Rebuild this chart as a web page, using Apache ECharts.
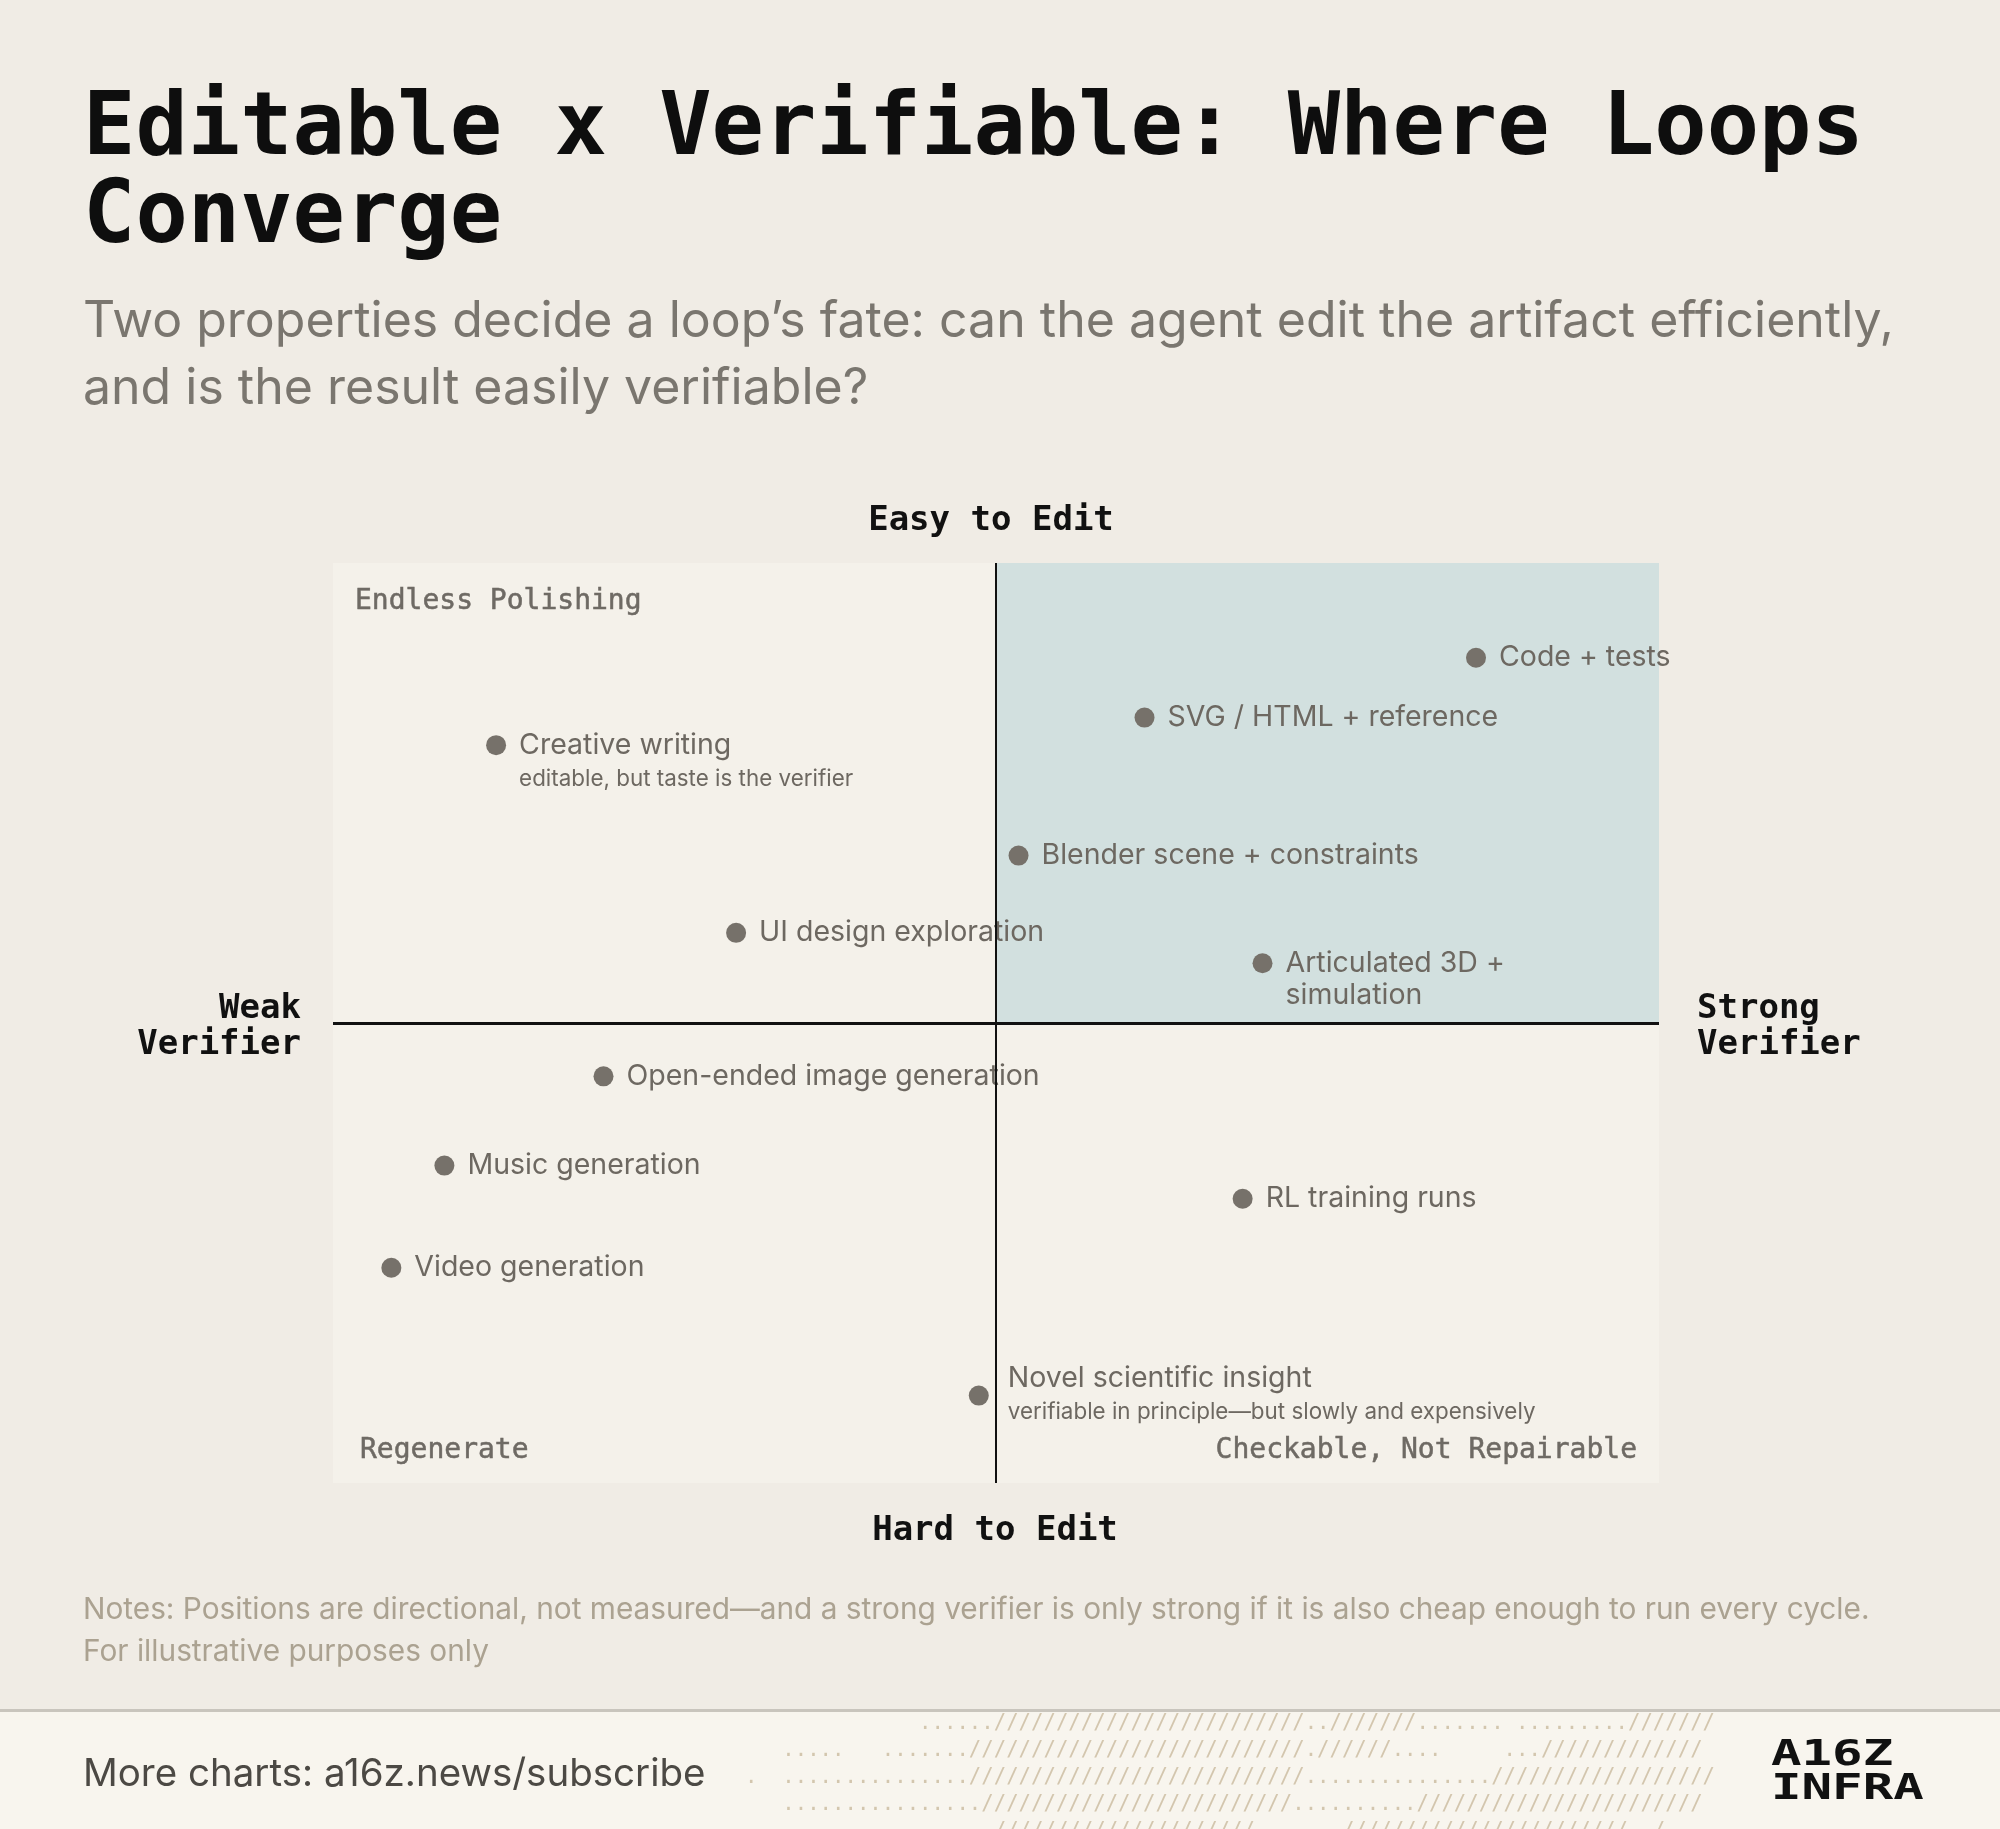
<!DOCTYPE html>
<html><head><meta charset="utf-8">
<script src="https://cdn.jsdelivr.net/npm/echarts@6/dist/echarts.min.js"></script>
<style>html,body{margin:0;padding:0;background:#f0ece5;}#c{width:2000px;height:1829px;}</style>
</head><body><div id="c"></div>
<script>
// ---- data ----
const names = ['Code + tests','SVG / HTML + reference','Creative writing','Blender scene + constraints','UI design exploration','Articulated 3D +\nsimulation','Open-ended image generation','Music generation','RL training runs','Video generation','Novel scientific insight'];
const subNotes = ['','','editable, but taste is the verifier','','','','','','','','verifiable in principle\u2014but slowly and expensively'];
const verifierScore = [86.2,61.2,12.3,51.7,30.4,70.1,20.4,8.4,68.6,4.4,48.7];
const editScore = [89.7,83.2,80.2,68.2,59.8,56.5,44.2,34.5,30.9,23.4,9.5];
const quadrantLabels = ['Loops Converge Here','Endless Polishing','Regenerate','Checkable, Not Repairable'];
const axisTitles = ['Easy to Edit','Hard to Edit','Weak\nVerifier','Strong\nVerifier'];
const titleLines = ['Editable x Verifiable: Where Loops','Converge'];
const subtitleLines = ['Two properties decide a loop\u2019s fate: can the agent edit the artifact efficiently,','and is the result easily verifiable?'];
const noteLines = ['Notes: Positions are directional, not measured\u2014and a strong verifier is only strong if it is also cheap enough to run every cycle.','For illustrative purposes only'];
const footerText = 'More charts: a16z.news/subscribe';

// ---- build ----
const S = 'Inter, "Noto Sans", sans-serif';
const M = '"DejaVu Sans Mono", "Liberation Mono", monospace';
const labelColor = '#6d6861';
const data = names.map((n, i) => {
  const lines = n.split('\n').map(l => '{m|' + l + '}');
  if (subNotes[i]) lines.push('{s|' + subNotes[i] + '}');
  const extra = lines.length - 1;
  let dx = 0, dy = 0;
  if (subNotes[i] && editScore[i] > 50) dy = 18;
  else if (subNotes[i]) { dy = 1; dx = 6; }
  else if (extra > 0) dy = 16;
  return { value: [verifierScore[i], editScore[i]], name: n,
    label: { formatter: lines.join('\n'), offset: [dx, dy] } };
});
const rep = (c, k) => c.repeat(k);
const pattern = [
  rep(' ',14)+rep('.',6)+rep('/',25)+'..'+rep('/',7)+rep('.',7)+' '+rep('.',9)+rep('/',7),
  rep(' ',3)+rep('.',5)+rep(' ',3)+rep('.',7)+rep('/',27)+'.'+rep('/',6)+rep('.',4)+rep(' ',5)+'...'+rep('/',13),
  '.'+'  '+rep('.',15)+rep('/',27)+rep('.',15)+rep('/',18),
  rep(' ',3)+rep('.',16)+rep('/',25)+rep('.',10)+rep('/',23),
  rep(' ',20)+rep('/',21)+rep(' ',7)+rep('/',23)+'  /'
];

const DY = 4;
const T = (text, x, y, font, fill, align, extra, st) => Object.assign({ type: 'text', x: x, y: y + DY, silent: true,
  style: Object.assign({ text: text, x: 0, y: 0, font: font, fill: fill, textAlign: align || 'left', textVerticalAlign: 'middle' }, st || {}) }, extra || {});
const qs = (c) => ({ stroke: c, lineWidth: 0.5 });

const elements = [
  { type: 'rect', shape: { x: 0, y: 1709, width: 2000, height: 3 }, style: { fill: '#c9c5bd' }, silent: true },
  { type: 'rect', shape: { x: 0, y: 1712, width: 2000, height: 117 }, style: { fill: '#f8f5ee' }, silent: true },
  T(titleLines[0], 83, 127, 'bold 87px ' + M, '#0e0e0e'),
  T(titleLines[1], 83, 215, 'bold 87px ' + M, '#0e0e0e'),
  T(subtitleLines[0], 83, 318, '50px ' + S, '#7a766f'),
  T(subtitleLines[1], 83, 385, '50px ' + S, '#7a766f'),
  T(axisTitles[0], 991, 517, 'bold 34px ' + M, '#111', 'center'),
  T(axisTitles[1], 995, 1527, 'bold 34px ' + M, '#111', 'center'),
  T(quadrantLabels[1], 355, 598, '28px ' + M, '#6e6a64', 'left', null, qs('#6e6a64')),
  T(quadrantLabels[0], 1637, 598, '28px ' + M, '#1e7a9b', 'right', null, qs('#1e7a9b')),
  T(quadrantLabels[2], 360, 1447, '28px ' + M, '#6e6a64', 'left', null, qs('#6e6a64')),
  T(quadrantLabels[3], 1637, 1447, '28px ' + M, '#6e6a64', 'right', null, qs('#6e6a64')),
  T(noteLines[0], 83, 1606, '29.8px ' + S, '#aba291'),
  T(noteLines[1], 83, 1648, '29.8px ' + S, '#aba291'),
  T(footerText, 83, 1770, '38.5px ' + S, '#4c4944'),
  T('A16Z', 1771, 1752, 'bold 36px ' + M, '#111', 'left', { scaleX: 1.41 }),
  T('INFRA', 1771, 1786, 'bold 36px ' + M, '#111', 'left', { scaleX: 1.41 })
];
const wv = axisTitles[2].split('\n'), sv = axisTitles[3].split('\n');
elements.push(T(wv[0], 301, 1005, 'bold 34px ' + M, '#111', 'right'));
elements.push(T(wv[1], 301, 1041, 'bold 34px ' + M, '#111', 'right'));
elements.push(T(sv[0], 1697, 1005, 'bold 34px ' + M, '#111'));
elements.push(T(sv[1], 1697, 1041, 'bold 34px ' + M, '#111'));
pattern.forEach((p, i) => elements.push(T(p, 745, 1720 + i * 27, '20.66px ' + M, '#d3c6ae')));

const chart = echarts.init(document.getElementById('c'), null, { renderer: 'canvas' });
chart.setOption({
  backgroundColor: '#f0ece5',
  animation: false,
  grid: { left: 333, top: 563, width: 1326, height: 920, show: true, backgroundColor: '#f4f1ea', borderWidth: 0 },
  xAxis: { type: 'value', min: 0, max: 100, show: false },
  yAxis: { type: 'value', min: 0, max: 100, show: false },
  graphic: { elements: elements },
  series: [{
    type: 'scatter',
    data: data,
    symbolSize: 20,
    itemStyle: { color: '#76716a', opacity: 1 },
    label: { show: true, position: 'right', distance: 13, align: 'left',
      rich: {
        m: { fontFamily: S, fontSize: 28.5, color: labelColor, lineHeight: 32 },
        s: { fontFamily: S, fontSize: 22.4, color: labelColor, lineHeight: 36 }
      } },
    emphasis: { disabled: true },
    markArea: { silent: true, itemStyle: { color: '#d2e0df' },
      data: [[{ xAxis: 50, yAxis: 50 }, { xAxis: 100, yAxis: 100 }]] },
    markLine: { silent: true, symbol: 'none', label: { show: false },
      data: [
        { xAxis: 50, lineStyle: { color: '#111', width: 2, type: 'solid' } },
        { yAxis: 50, lineStyle: { color: '#111', width: 3, type: 'solid' } }
      ] }
  }]
});
</script></body></html>
